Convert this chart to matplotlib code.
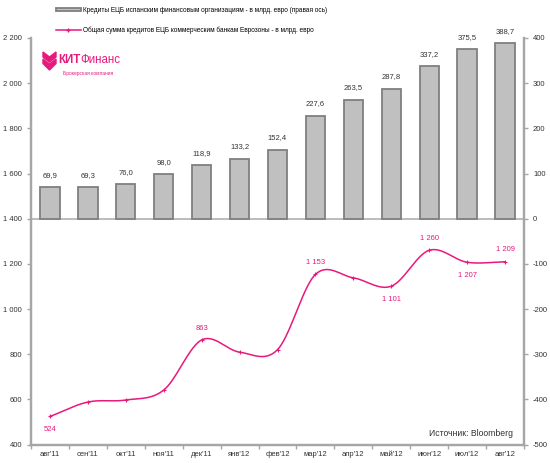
import numpy as np
import matplotlib.pyplot as plt
from matplotlib.patches import Polygon
from matplotlib.lines import Line2D

plt.rcParams['font.family'] = ['Liberation Sans', 'DejaVu Sans']

months = ["авг'11", "сен'11", "окт'11", "ноя'11", "дек'11", "янв'12", "фев'12",
          "мар'12", "апр'12", "май'12", "июн'12", "июл'12", "авг'12"]
# кредиты ЕЦБ испанским банкам, млрд евро (правая ось)
spain = [69.9, 69.3, 76.0, 98.0, 118.9, 133.2, 152.4, 227.6, 263.5, 287.8, 337.2, 375.5, 388.7]
# общая сумма кредитов ЕЦБ банкам еврозоны (левая ось)
total = [524, 588, 597, 641, 863, 809, 820, 1153, 1138, 1101, 1260, 1207, 1209]
# подписи у линии: индекс -> над/под
line_labels = {0: 'below', 4: 'above', 7: 'above', 9: 'below', 10: 'above', 11: 'below', 12: 'above'}

pink = '#e8197d'
gray_axis = '#a6a6a6'
W, H = 550, 463


def fmt_space(v):
    return '{:,}'.format(int(v)).replace(',', ' ')


def smooth(x, y, n=30):
    # catmull-rom, как "сглаженная линия" в excel
    x = np.asarray(x, float)
    y = np.asarray(y, float)
    px = np.concatenate([[2 * x[0] - x[1]], x, [2 * x[-1] - x[-2]]])
    py = np.concatenate([[2 * y[0] - y[1]], y, [2 * y[-1] - y[-2]]])
    xs, ys = [], []
    t = np.linspace(0, 1, n)
    for i in range(1, len(px) - 2):
        for arr, out in ((px, xs), (py, ys)):
            p0, p1, p2, p3 = arr[i - 1], arr[i], arr[i + 1], arr[i + 2]
            out.extend(0.5 * (2 * p1 + (-p0 + p2) * t + (2 * p0 - 5 * p1 + 4 * p2 - p3) * t ** 2
                              + (-p0 + 3 * p1 - 3 * p2 + p3) * t ** 3))
    return np.array(xs), np.array(ys)


def px2fig(pts):
    return [[a / W, 1 - b / H] for a, b in pts]


fig = plt.figure(figsize=(5.5, 4.63), dpi=100)
ax = fig.add_axes([31 / W, 1 - 444.5 / H, (524 - 31) / W, (444.5 - 38) / H])
ax2 = ax.twinx()
ax.set_zorder(ax2.get_zorder() + 1)
ax.patch.set_visible(False)

x = np.arange(len(months))

# столбцы
bars = ax2.bar(x, spain, width=0.51, color='#c0c0c0', edgecolor='#7f7f7f', linewidth=1.3)
ax2.axhline(0, color='#b0b0b0', linewidth=1.2, zorder=0.5)
for xi, v in zip(x, spain):
    ax2.annotate('{:.1f}'.format(v).replace('.', ','), (xi, v), xytext=(0, 6),
                 textcoords='offset points', ha='center', va='bottom', fontsize=5.5, color='#333333')

# линия
sx, sy = smooth(x, total)
ax.plot(sx, sy, color=pink, linewidth=1.1)
ax.plot(x, total, linestyle='none', marker='+', markersize=3, color=pink, markeredgewidth=0.8)
for i, pos in line_labels.items():
    off = 6 if pos == 'above' else -7
    ax.annotate(fmt_space(total[i]), (x[i], total[i]), xytext=(0, off), textcoords='offset points',
                ha='center', va='bottom' if pos == 'above' else 'top', fontsize=5.5, color=pink)

ax.set_xlim(-0.5, 12.5)
ax.set_ylim(400, 2200)
ax2.set_ylim(-500, 400)
ax.set_yticks(np.arange(400, 2201, 200))
ax.set_yticklabels([fmt_space(v) for v in np.arange(400, 2201, 200)])
ax2.set_yticks(np.arange(-500, 401, 100))
ax2.set_yticklabels([str(v) for v in np.arange(-500, 401, 100)])
ax.set_xticks(x)
ax.set_xticklabels(months)
ax.set_xticks(np.arange(-0.5, 12.6, 1), minor=True)
ax.tick_params(axis='x', which='major', length=0, pad=5, labelsize=5.5, colors='#333333')
ax.tick_params(axis='x', which='minor', length=3, color=gray_axis, width=1)
ax.tick_params(axis='y', length=3, color=gray_axis, width=1, labelsize=5.5, labelcolor='#333333')
ax2.tick_params(axis='y', length=3, color=gray_axis, width=1, labelsize=5.5, labelcolor='#333333')
for a in (ax, ax2):
    a.spines['top'].set_visible(False)
    for s in ('left', 'right', 'bottom'):
        a.spines[s].set_color(gray_axis)
        a.spines[s].set_linewidth(1.6)

# легенда
line_handle = Line2D([], [], color=pink, linewidth=1.1, marker='+', markersize=3)
fig.legend([bars, line_handle],
           ['Кредиты ЕЦБ испанским финансовым организациям - в млрд. евро (правая ось)',
            'Общая сумма кредитов ЕЦБ коммерческим банкам Еврозоны - в млрд. евро'],
           loc='upper left', bbox_to_anchor=(50 / W, 0.998), frameon=False, fontsize=4.7,
           handlelength=3.8, handleheight=0.5, labelspacing=2.0, handletextpad=0.3)

# логотип
for pts in ([(43, 52), (49.5, 57), (56, 52), (56, 57), (49.5, 62), (43, 57)],
            [(43, 59), (49.5, 64), (56, 59), (56, 63.5), (49.5, 70), (43, 63.5)]):
    fig.patches.append(Polygon(px2fig(pts), closed=True, transform=fig.transFigure, color=pink))
kit = fig.text(58 / W, 1 - 60 / H, 'КИТ', fontsize=8.3, fontweight='bold', color=pink,
               va='center', ha='left')
fig.add_artist(plt.Annotation('Финанс', xy=(1, 0.5), xycoords=kit, xytext=(0, 0),
                              textcoords='offset points', va='center', ha='left',
                              fontsize=8.3, color=pink))
fig.text(63 / W, 1 - 73 / H, 'Брокерская компания', fontsize=3.5, color=pink, va='center', ha='left')

fig.text(513 / W, 1 - 434 / H, 'Источник: Bloomberg', fontsize=6.2, color='#333333',
         ha='right', va='center')

fig.savefig('out.png', dpi=100)
